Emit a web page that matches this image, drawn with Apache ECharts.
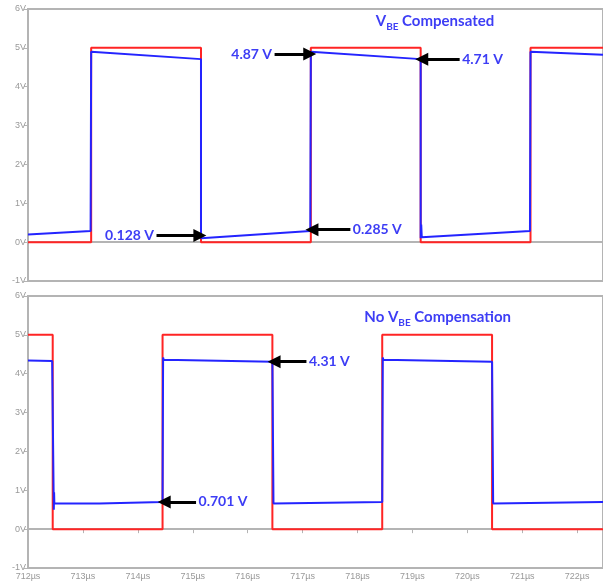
<!DOCTYPE html>
<html>
<head>
<meta charset="utf-8">
<script src="https://cdn.jsdelivr.net/npm/echarts@6/dist/echarts.min.js"></script>
<style>
  html, body { margin: 0; padding: 0; background: #fff; }
  #container { width: 603px; height: 588px; }
</style>
</head>
<body>
<div id="container"></div>
<script>
// time axis in µs, voltages in V
const tMin = 712, tMax = 722.47;
const vMin = -1, vMax = 6;

// top panel: VBE compensated
const redTop = [
  [712, 0], [713.15, 0], [713.15, 5], [715.15, 5], [715.15, 0],
  [717.15, 0], [717.15, 5], [719.15, 5], [719.15, 0],
  [721.15, 0], [721.15, 5], [722.47, 5]
];
const blueTop = [
  [712, 0.195], [713.14, 0.285], [713.15, 4.9], [713.17, 4.87], [715.15, 4.71],
  [715.15, 0.1], [715.16, 0.128], [717.14, 0.285], [717.15, 4.9], [717.17, 4.87],
  [719.15, 4.71], [719.15, 0.1], [719.16, 0.45], [719.17, 0.128],
  [721.14, 0.285], [721.15, 4.9], [721.17, 4.87], [722.47, 4.82]
];

// bottom panel: no VBE compensation
const redBot = [
  [712, 5], [712.45, 5], [712.45, 0], [714.45, 0], [714.45, 5],
  [716.45, 5], [716.45, 0], [718.45, 0], [718.45, 5],
  [720.45, 5], [720.45, 0], [722.47, 0]
];
const blueBot = [
  [712, 4.34], [712.44, 4.33], [712.46, 4.3], [712.47, 0.5], [712.475, 0.95],
  [712.48, 0.66], [713.3, 0.66], [714.45, 0.70], [714.46, 4.42], [714.47, 4.36],
  [716.45, 4.31], [716.47, 0.66], [718.45, 0.70], [718.46, 4.42], [718.47, 4.36],
  [720.45, 4.31], [720.47, 0.66], [722.47, 0.70]
];

// annotations: [text, arrow from t, arrow from v, arrow to t, arrow to v, side of text]
const notesTop = [
  ["4.87 V", 716.49, 4.84, 717.13, 4.84, "left"],
  ["4.71 V", 719.86, 4.71, 719.17, 4.71, "right"],
  ["0.128 V", 714.34, 0.17, 715.13, 0.17, "left"],
  ["0.285 V", 717.87, 0.32, 717.17, 0.32, "right"]
];
const notesBot = [
  ["4.31 V", 717.07, 4.31, 716.48, 4.31, "right"],
  ["0.701 V", 715.06, 0.70, 714.48, 0.70, "right"]
];
const titleTop = [719.41, 5.72];
const titleBot = [719.46, 5.48];

const red = "#ff2424", blue = "#2424ff", txtBlue = "#3d3df5";
const grey = "#b4b4b4";

const chart = echarts.init(document.getElementById("container"));

function arrows(notes) {
  return notes.map(n => [
    { coord: [n[1], n[2]] },
    { coord: [n[3], n[4]] }
  ]);
}
function labels(notes) {
  return notes.map(n => ({
    coord: [n[1], n[2]],
    symbol: "circle",
    symbolSize: 1,
    itemStyle: { color: "rgba(0,0,0,0)" },
    label: {
      show: true,
      position: n[5],
      distance: 2,
      formatter: n[0],
      color: txtBlue,
      fontFamily: "Lato",
      fontWeight: "bold",
      fontSize: 14
    }
  }));
}
function titlePoint(coord, pre, post) {
  return {
    coord: coord,
    symbol: "circle",
    symbolSize: 1,
    itemStyle: { color: "rgba(0,0,0,0)" },
    label: {
      show: true,
      position: "inside",
      formatter: (pre ? "{v|" + pre + "}" : "") + "{v|V}{s|BE}{v|" + post + "}",
      rich: {
        v: { color: txtBlue, fontFamily: "Lato", fontWeight: "bold", fontSize: 15, verticalAlign: "bottom", lineHeight: 17 },
        s: { color: txtBlue, fontFamily: "Lato", fontWeight: "bold", fontSize: 10, verticalAlign: "bottom", lineHeight: 13, padding: [0, 0, -3, 0] }
      }
    }
  };
}

function xAxis(idx, withLabels) {
  return {
    type: "value",
    gridIndex: idx,
    min: tMin,
    max: tMax,
    interval: 1,
    axisLine: { show: true, lineStyle: { color: grey, width: 2 } },
    axisTick: { show: withLabels, length: 4, lineStyle: { color: grey } },
    axisLabel: {
      show: withLabels,
      margin: 4,
      showMaxLabel: false,
      color: "#999",
      fontFamily: "Liberation Sans",
      fontSize: 9,
      formatter: v => v + "µs"
    },
    splitLine: { show: false }
  };
}
function yAxis(idx) {
  return {
    type: "value",
    gridIndex: idx,
    min: vMin,
    max: vMax,
    interval: 1,
    axisLine: { show: true, lineStyle: { color: grey, width: 2 } },
    axisTick: { show: true, length: 4, lineStyle: { color: grey } },
    axisLabel: {
      margin: 2,
      color: "#999",
      fontFamily: "Liberation Sans",
      fontSize: 9,
      formatter: v => v + "V"
    },
    splitLine: { show: false }
  };
}

const markStyle = {
  silent: true,
  symbol: ["none", "triangle"],
  symbolSize: 13,
  label: { show: false },
  lineStyle: { color: "#000", width: 3, type: "solid" },
  itemStyle: { color: "#000" },
  emphasis: { disabled: true }
};

const option = {
  animation: false,
  backgroundColor: "#fff",
  grid: [
    { left: 28, right: -3, top: 9, height: 272, show: true, borderColor: grey, borderWidth: 2 },
    { left: 28, right: -3, top: 296, height: 272, show: true, borderColor: grey, borderWidth: 2 }
  ],
  xAxis: [xAxis(0, false), xAxis(1, true)],
  yAxis: [yAxis(0), yAxis(1)],
  series: [
    {
      type: "line", xAxisIndex: 0, yAxisIndex: 0, data: redTop,
      symbol: "none", lineStyle: { color: red, width: 2 }
    },
    {
      type: "line", xAxisIndex: 0, yAxisIndex: 0, data: blueTop,
      symbol: "none", lineStyle: { color: blue, width: 2 },
      markLine: Object.assign({ data: arrows(notesTop) }, markStyle),
      markPoint: { silent: true, data: labels(notesTop).concat([titlePoint(titleTop, "", " Compensated")]) }
    },
    {
      type: "line", xAxisIndex: 1, yAxisIndex: 1, data: redBot,
      symbol: "none", lineStyle: { color: red, width: 2 }
    },
    {
      type: "line", xAxisIndex: 1, yAxisIndex: 1, data: blueBot,
      symbol: "none", lineStyle: { color: blue, width: 2 },
      markLine: Object.assign({ data: arrows(notesBot) }, markStyle),
      markPoint: { silent: true, data: labels(notesBot).concat([titlePoint(titleBot, "No ", " Compensation")]) }
    }
  ]
};
chart.setOption(option);
</script>
</body>
</html>
